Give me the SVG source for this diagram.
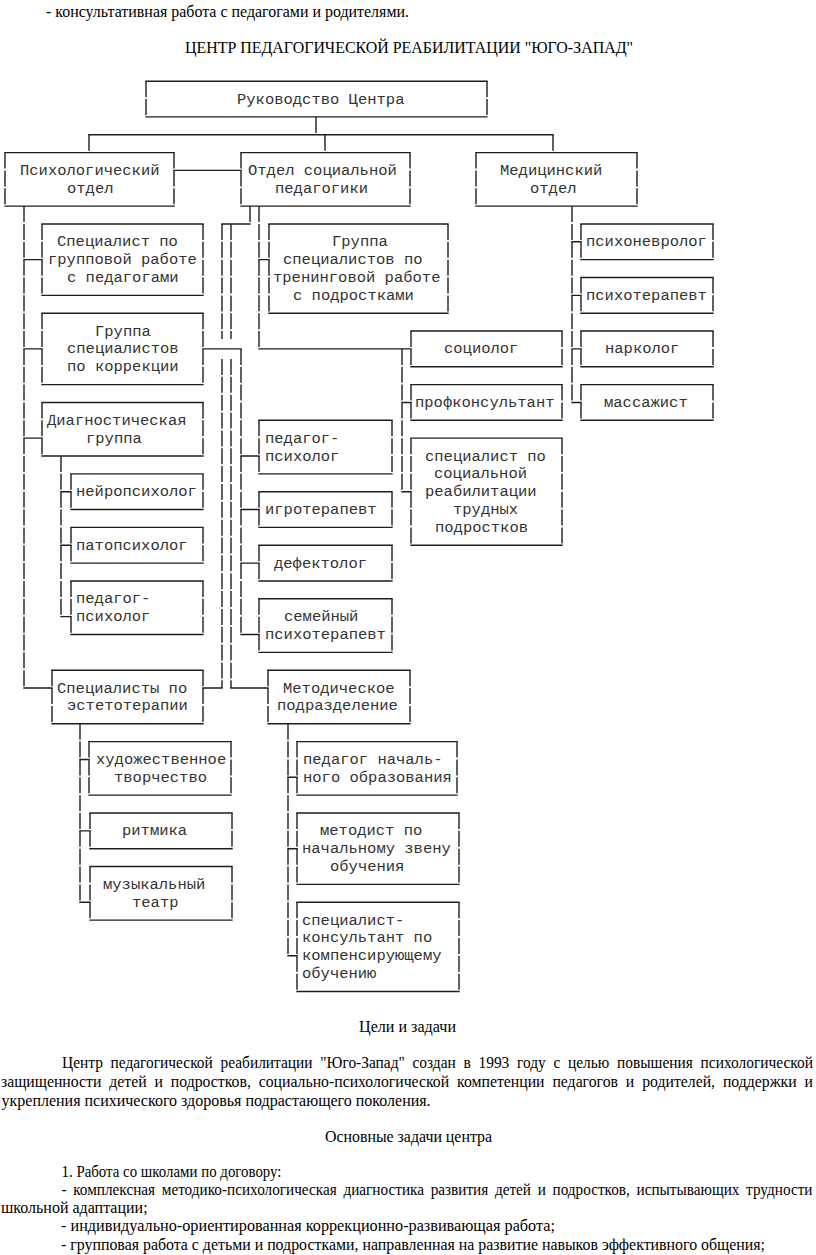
<svg xmlns="http://www.w3.org/2000/svg" width="816" height="1255" viewBox="0 0 816 1255">
<style>
.h{stroke:#1e1e1e;stroke-width:1.4;fill:none;stroke-linecap:square}
.v{stroke:#1e1e1e;stroke-width:1.4;fill:none;stroke-dasharray:16 1.85}
.m{font-family:"Liberation Mono","Courier New",monospace;font-size:15.5px;fill:#333}
.t{font-family:"Liberation Serif","Times New Roman",serif;font-size:16px;fill:#000}
</style>
<rect width="816" height="1255" fill="#fff"/>
<g id="page-text-top">
<text class="t" x="46" y="17" textLength="363" lengthAdjust="spacingAndGlyphs">- консультативная работа с педагогами и родителями.</text>
<text class="t" x="185" y="52.5" textLength="448" lengthAdjust="spacingAndGlyphs">ЦЕНТР ПЕДАГОГИЧЕСКОЙ РЕАБИЛИТАЦИИ "ЮГО-ЗАПАД"</text>
</g>
<g id="connectors">
<path class="h" d="M89 134.7H553M174 170.4H241M24 259.65H42M24 348.9H42M24 438.15H42M24 688.05H52M222 224H250M203 688.05H222M231 688.05H268M203 348.9H241M241 456H259M241 509.55H259M241 563.1H259M241 634.5H259M259 259.65H269M259 348.9H411M402 402.45H411M402 491.7H411M572 241.8H581M572 295.35H581M572 348.9H581M572 402.45H581M61 491.7H71M61 545.25H71M61 616.65H71M80 759.45H89M80 830.85H90M80 902.25H90M288 777.3H297M288 848.7H297M288 955.8H297"/>
<path class="v" d="M316 116.9V134.7M89 134.7V152.6M325 134.7V152.6M553 134.7V152.6M24 206.1V688.05M250 206.1V224M222 224V339M222 359V688.05M231 224V339M231 359V688.05M241 348.9V634.5M259 206.1V348.9M402 348.9V491.7M572 206.1V402.45M61 456V616.65M80 723.75V902.25M288 723.75V955.8"/>
</g>
<g id="n-rukovodstvo"><path class="h" d="M146 81.2H487M146 116.9H487"/><path class="v" d="M146 81.2V116.9M487 81.2V116.9"/><text class="m" x="237" y="103.5">Руководство Центра</text></g>
<g id="n-psych"><path class="h" d="M5 152.6H174M5 206.1H174"/><path class="v" d="M5 152.6V206.1M174 152.6V206.1"/><text class="m" x="20" y="174.9">Психологический</text><text class="m" x="67" y="192.75">отдел</text></g>
<g id="n-socped"><path class="h" d="M241 152.6H410M241 206.1H410"/><path class="v" d="M241 152.6V206.1M410 152.6V206.1"/><text class="m" x="248" y="174.9">Отдел социальной</text><text class="m" x="275" y="192.75">педагогики</text></g>
<g id="n-med"><path class="h" d="M476 152.6H637M476 206.1H637"/><path class="v" d="M476 152.6V206.1M637 152.6V206.1"/><text class="m" x="500" y="174.9">Медицинский</text><text class="m" x="530" y="192.75">отдел</text></g>
<g id="n-spec-group"><path class="h" d="M42 224H203M42 295.35H203"/><path class="v" d="M42 224V295.35M203 224V295.35"/><text class="m" x="57" y="246.3">Специалист по</text><text class="m" x="48" y="264.15">групповой работе</text><text class="m" x="67" y="282">с педагогами</text></g>
<g id="n-korr"><path class="h" d="M42 313.2H203M42 384.6H203"/><path class="v" d="M42 313.2V384.6M203 313.2V384.6"/><text class="m" x="95" y="335.55">Группа</text><text class="m" x="67" y="353.4">специалистов</text><text class="m" x="67" y="371.25">по коррекции</text></g>
<g id="n-trening"><path class="h" d="M269 224H448M269 313.2H448"/><path class="v" d="M269 224V313.2M448 224V313.2"/><text class="m" x="332" y="246.3">Группа</text><text class="m" x="283" y="264.15">специалистов по</text><text class="m" x="273" y="282">тренинговой работе</text><text class="m" x="293" y="299.85">с подростками</text></g>
<g id="n-sociolog"><path class="h" d="M411 331.05H562M411 366.75H562"/><path class="v" d="M411 331.05V366.75M562 331.05V366.75"/><text class="m" x="444" y="353.4">социолог</text></g>
<g id="n-profkons"><path class="h" d="M411 384.6H562M411 420.3H562"/><path class="v" d="M411 384.6V420.3M562 384.6V420.3"/><text class="m" x="415" y="406.95">профконсультант</text></g>
<g id="n-socreab"><path class="h" d="M411 438.15H562M411 545.25H562"/><path class="v" d="M411 438.15V545.25M562 438.15V545.25"/><text class="m" x="425" y="460.5">специалист по</text><text class="m" x="434" y="478.35">социальной</text><text class="m" x="425" y="496.2">реабилитации</text><text class="m" x="453" y="514.05">трудных</text><text class="m" x="435" y="531.9">подростков</text></g>
<g id="n-psychonevr"><path class="h" d="M581 224H713M581 259.65H713"/><path class="v" d="M581 224V259.65M713 224V259.65"/><text class="m" x="586" y="246.3">психоневролог</text></g>
<g id="n-psychoter"><path class="h" d="M581 277.5H713M581 313.2H713"/><path class="v" d="M581 277.5V313.2M713 277.5V313.2"/><text class="m" x="586" y="299.85">психотерапевт</text></g>
<g id="n-narkolog"><path class="h" d="M581 331.05H713M581 366.75H713"/><path class="v" d="M581 331.05V366.75M713 331.05V366.75"/><text class="m" x="605" y="353.4">нарколог</text></g>
<g id="n-massazh"><path class="h" d="M581 384.6H713M581 420.3H713"/><path class="v" d="M581 384.6V420.3M713 384.6V420.3"/><text class="m" x="604" y="406.95">массажист</text></g>
<g id="n-diag"><path class="h" d="M42 402.45H203M42 456H203"/><path class="v" d="M42 402.45V456M203 402.45V456"/><text class="m" x="47" y="424.8">Диагностическая</text><text class="m" x="86" y="442.65">группа</text></g>
<g id="n-neuro"><path class="h" d="M71 473.85H203M71 509.55H203"/><path class="v" d="M71 473.85V509.55M203 473.85V509.55"/><text class="m" x="76" y="496.2">нейропсихолог</text></g>
<g id="n-pato"><path class="h" d="M71 527.4H203M71 563.1H203"/><path class="v" d="M71 527.4V563.1M203 527.4V563.1"/><text class="m" x="76" y="549.75">патопсихолог</text></g>
<g id="n-pedpsych-diag"><path class="h" d="M71 580.95H203M71 634.5H203"/><path class="v" d="M71 580.95V634.5M203 580.95V634.5"/><text class="m" x="76" y="603.3">педагог-</text><text class="m" x="76" y="621.15">психолог</text></g>
<g id="n-pedpsych-korr"><path class="h" d="M259 420.3H392M259 473.85H392"/><path class="v" d="M259 420.3V473.85M392 420.3V473.85"/><text class="m" x="265" y="442.65">педагог-</text><text class="m" x="265" y="460.5">психолог</text></g>
<g id="n-igro"><path class="h" d="M259 491.7H392M259 527.4H392"/><path class="v" d="M259 491.7V527.4M392 491.7V527.4"/><text class="m" x="265" y="514.05">игротерапевт</text></g>
<g id="n-defekt"><path class="h" d="M259 545.25H392M259 580.95H392"/><path class="v" d="M259 545.25V580.95M392 545.25V580.95"/><text class="m" x="274" y="567.6">дефектолог</text></g>
<g id="n-semein"><path class="h" d="M259 598.8H392M259 652.35H392"/><path class="v" d="M259 598.8V652.35M392 598.8V652.35"/><text class="m" x="284" y="621.15">семейный</text><text class="m" x="265" y="639">психотерапевт</text></g>
<g id="n-estet"><path class="h" d="M52 670.2H203M52 723.75H203"/><path class="v" d="M52 670.2V723.75M203 670.2V723.75"/><text class="m" x="57" y="692.55">Специалисты по</text><text class="m" x="67" y="710.4">эстетотерапии</text></g>
<g id="n-metod"><path class="h" d="M268 670.2H410M268 723.75H410"/><path class="v" d="M268 670.2V723.75M410 670.2V723.75"/><text class="m" x="283" y="692.55">Методическое</text><text class="m" x="277" y="710.4">подразделение</text></g>
<g id="n-hudozh"><path class="h" d="M89 741.6H231M89 795.15H231"/><path class="v" d="M89 741.6V795.15M231 741.6V795.15"/><text class="m" x="96" y="763.95">художественное</text><text class="m" x="114" y="781.8">творчество</text></g>
<g id="n-ritmika"><path class="h" d="M90 813H232M90 848.7H232"/><path class="v" d="M90 813V848.7M232 813V848.7"/><text class="m" x="122" y="835.35">ритмика</text></g>
<g id="n-muzteatr"><path class="h" d="M90 866.55H232M90 920.1H232"/><path class="v" d="M90 866.55V920.1M232 866.55V920.1"/><text class="m" x="103" y="888.9">музыкальный</text><text class="m" x="132" y="906.75">театр</text></g>
<g id="n-pednach"><path class="h" d="M297 741.6H457M297 795.15H457"/><path class="v" d="M297 741.6V795.15M457 741.6V795.15"/><text class="m" x="303" y="763.95">педагог началь-</text><text class="m" x="303" y="781.8">ного образования</text></g>
<g id="n-metodist"><path class="h" d="M297 813H459M297 884.4H459"/><path class="v" d="M297 813V884.4M459 813V884.4"/><text class="m" x="320" y="835.35">методист по</text><text class="m" x="302" y="853.2">начальному звену</text><text class="m" x="330" y="871.05">обучения</text></g>
<g id="n-speckons"><path class="h" d="M297 902.25H459M297 991.5H459"/><path class="v" d="M297 902.25V991.5M459 902.25V991.5"/><text class="m" x="302" y="924.6">специалист-</text><text class="m" x="302" y="942.45">консультант по</text><text class="m" x="302" y="960.3">компенсирующему</text><text class="m" x="302" y="978.15">обучению</text></g>
<g id="page-text-bottom">
<text class="t" x="359" y="1032" textLength="97" lengthAdjust="spacingAndGlyphs">Цели и задачи</text>
<text class="t" x="62" y="1068" word-spacing="4" textLength="751" lengthAdjust="spacingAndGlyphs">Центр педагогической реабилитации "Юго-Запад" создан в 1993 году с целью повышения психологической</text>
<text class="t" x="1" y="1087" word-spacing="4" textLength="812" lengthAdjust="spacingAndGlyphs">защищенности детей и подростков, социально-психологической компетенции педагогов и родителей, поддержки и</text>
<text class="t" x="1.5" y="1106">укрепления психического здоровья подрастающего поколения.</text>
<text class="t" x="325" y="1142" textLength="167" lengthAdjust="spacingAndGlyphs">Основные задачи центра</text>
<text class="t" x="61.5" y="1177" textLength="220" lengthAdjust="spacingAndGlyphs">1. Работа со школами по договору:</text>
<text class="t" x="61.5" y="1195" word-spacing="3" textLength="751" lengthAdjust="spacingAndGlyphs">- комплексная методико-психологическая диагностика развития детей и подростков, испытывающих трудности</text>
<text class="t" x="1" y="1213">школьной адаптации;</text>
<text class="t" x="61" y="1231" textLength="494" lengthAdjust="spacingAndGlyphs">- индивидуально-ориентированная коррекционно-развивающая работа;</text>
<text class="t" x="61" y="1250" textLength="704" lengthAdjust="spacingAndGlyphs">- групповая работа с детьми и подростками, направленная на развитие навыков эффективного общения;</text>
</g>
</svg>
